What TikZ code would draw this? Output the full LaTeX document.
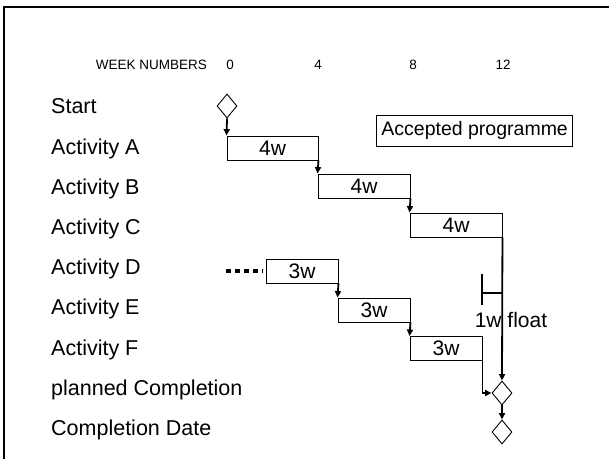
\documentclass[tikz,border=0pt]{standalone}
\usepackage{fontspec}
\setmainfont{Liberation Sans}
\usetikzlibrary{shapes.geometric,arrows.meta}
\begin{document}
\begin{tikzpicture}[x=1pt,y=-1pt,
  lbl/.style={anchor=base west,inner sep=0,font=\fontsize{21.5}{25}\selectfont},
  wk/.style={anchor=base,inner sep=0,font=\fontsize{13.5}{16}\selectfont},
  act/.style={draw,line width=0.9pt,minimum height=24pt,inner sep=0,font=\fontsize{21}{24}\selectfont},
  mile/.style={draw,diamond,line width=0.9pt,minimum width=20pt,minimum height=24pt,inner sep=0},
  arr/.style={line width=1.8pt,-{Triangle[length=6.5pt,width=6pt]}},
  ln/.style={line width=1.8pt}]
\useasboundingbox (0,0) rectangle (609,459);
\draw[line width=2.5pt] (4,459) -- (4,7) -- (609,7);
% header
\node[wk] (wn) at (151.5,69) {WEEK NUMBERS};
\node[wk] (w0) at (230,69) {0};
\node[wk] (w4) at (318,69) {4};
\node[wk] (w8) at (413,69) {8};
\node[wk] (w12) at (503,69) {12};
% row labels
\node[lbl] (l0) at (51,113.5) {Start};
\node[lbl] (l1) at (51,154) {Activity A};
\node[lbl] (l2) at (51,194) {Activity B};
\node[lbl] (l3) at (51,234.5) {Activity C};
\node[lbl] (l4) at (51,274.5) {Activity D};
\node[lbl] (l5) at (51,314.5) {Activity E};
\node[lbl] (l6) at (51,355) {Activity F};
\node[lbl] (l7) at (51,395) {planned Completion};
\node[lbl] (l8) at (51,435) {Completion Date};
% accepted programme
\node[draw,line width=0.9pt,anchor=west,inner xsep=5pt,minimum height=31pt,font=\fontsize{19.5}{24}\selectfont] (acc) at (376,130.5) {Accepted programme};
% milestones
\node[mile] (st) at (227,106) {};
\node[mile] (pc) at (502,393) {};
\node[mile] (cd) at (502,432) {};
% activities
\node[act,minimum width=91pt] (A) at (272.5,148) {4w};
\node[act,minimum width=92pt] (B) at (364,186) {4w};
\node[act,minimum width=92pt] (C) at (456,225) {4w};
\node[act,minimum width=72pt] (D) at (302,271) {3w};
\node[act,minimum width=72pt] (E) at (374,310) {3w};
\node[act,minimum width=72pt] (F) at (446,348.5) {3w};
% connectors
\draw[arr] (st.south) -- (A.north west);
\draw[arr] (A.south east) -- (B.north west);
\draw[arr] (B.south east) -- (C.north west);
\draw[arr] (D.south east) -- (E.north west);
\draw[arr] (E.south east) -- (F.north west);
\draw[arr] (C.south east) -- (pc.north);
\draw[arr] (F.south east) |- (pc.west);
\draw[arr] (pc.south) -- (cd.north);
% dotted lead-in
\coordinate (dstart) at (226,271);
\draw[line width=4.5pt,dash pattern=on 4.5pt off 4.5pt,shorten >=3pt] (dstart) -- (D.west);
% float marker
\coordinate (ft) at (482,274);
\coordinate (fb) at (482,305);
\coordinate (fm) at (482,293);
\draw[ln] (ft) -- (fb);
\draw[ln] (fm) -- (C.south east |- fm);
\node[inner sep=0,font=\fontsize{21}{24}\selectfont] (fl) at (511,320) {1w float};
\end{tikzpicture}
\end{document}
